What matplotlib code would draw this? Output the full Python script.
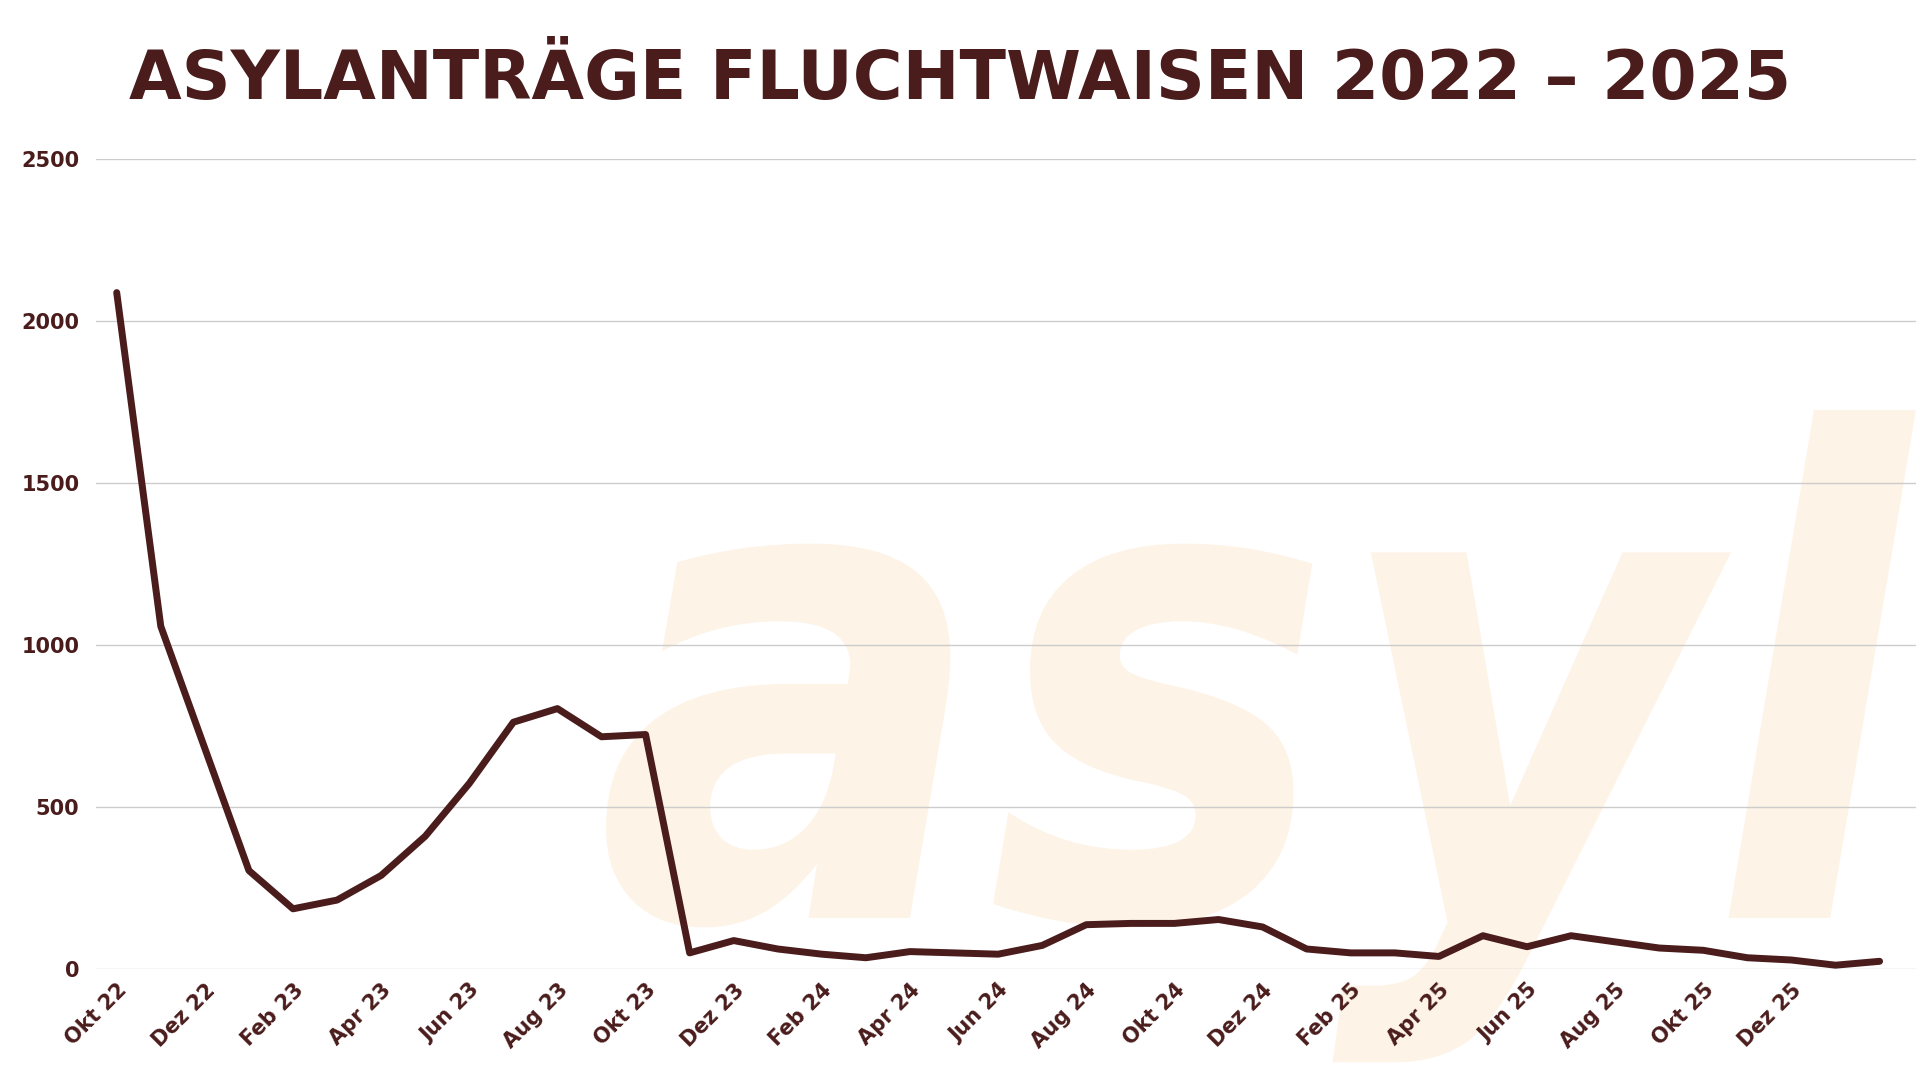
import matplotlib
matplotlib.use('Agg')
import matplotlib.pyplot as plt
from matplotlib.textpath import TextPath
from matplotlib.patches import PathPatch
from matplotlib.font_manager import FontProperties
from matplotlib.transforms import Affine2D

BROWN = '#4a1c1c'

months = ['Okt 22', 'Nov 22', 'Dez 22', 'Jan 23', 'Feb 23', 'Mär 23', 'Apr 23', 'Mai 23', 'Jun 23',
          'Jul 23', 'Aug 23', 'Sep 23', 'Okt 23', 'Nov 23', 'Dez 23', 'Jan 24', 'Feb 24', 'Mär 24',
          'Apr 24', 'Mai 24', 'Jun 24', 'Jul 24', 'Aug 24', 'Sep 24', 'Okt 24', 'Nov 24', 'Dez 24',
          'Jan 25', 'Feb 25', 'Mär 25', 'Apr 25', 'Mai 25', 'Jun 25', 'Jul 25', 'Aug 25', 'Sep 25',
          'Okt 25', 'Nov 25', 'Dez 25', 'Jan 26', 'Feb 26']
antraege = [2087, 1057, 680, 303, 185, 212, 288, 409, 572, 761, 803, 716, 723, 49, 87, 61, 45, 34,
            53, 49, 45, 72, 136, 140, 140, 152, 129, 61, 49, 49, 38, 102, 68, 102, 83, 64, 57, 34,
            27, 11, 23]
y_ticks = [0, 500, 1000, 1500, 2000, 2500]

fig = plt.figure(figsize=(19.2, 10.8), dpi=100)
fig.patch.set_facecolor('white')

# watermark, squeezed to fit the space like the original logo
tp = TextPath((0, 0), 'asyl', size=100,
              prop=FontProperties(family='DejaVu Sans', weight='bold', style='italic'))
ext = tp.get_extents()
sx = 1310 / ext.width
sy = 508 / ext.y1
wm = PathPatch(tp, facecolor='#fdf3e6', edgecolor='none', zorder=0,
               transform=Affine2D().scale(sx, sy).translate(606 - ext.x0 * sx, 162))
fig.add_artist(wm)

ax = fig.add_axes([0.05, 0.103, 0.948, 0.75])
ax.patch.set_alpha(0)
x = list(range(len(months)))
ax.plot(x, antraege, color=BROWN, linewidth=5, solid_joinstyle='round', solid_capstyle='round', zorder=3)

ax.set_xlim(-0.47, 40.83)
ax.set_ylim(0, 2500)
ax.set_yticks(y_ticks)
ax.set_yticklabels([str(v) for v in y_ticks], fontsize=15, fontweight='bold', color=BROWN)
ax.set_xticks(x[:39:2])
ax.set_xticklabels(months[:39:2], rotation=45, ha='right', rotation_mode='anchor',
                   fontsize=15, fontweight='bold', color=BROWN)
ax.yaxis.grid(True, color='#cccccc', linewidth=1)
ax.set_axisbelow(True)
for s in ax.spines.values():
    s.set_visible(False)
ax.tick_params(length=0, pad=8)
ax.yaxis.set_tick_params(pad=12)

fig.text(0.5, 0.926, 'ASYLANTRÄGE FLUCHTWAISEN 2022 – 2025', fontsize=49, fontweight='bold',
         color=BROWN, ha='center', va='center')

fig.savefig('out.png', dpi=100)
